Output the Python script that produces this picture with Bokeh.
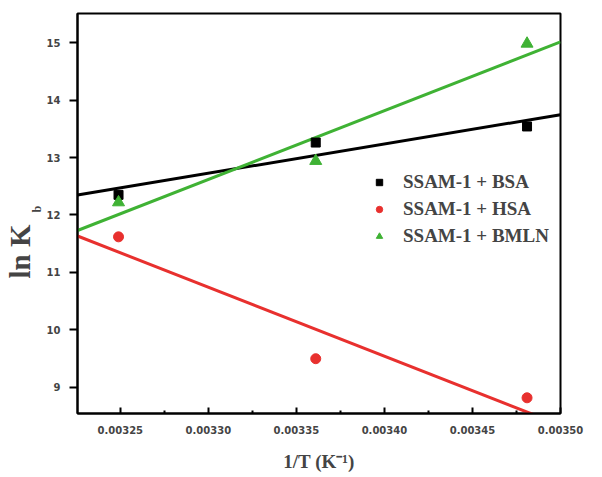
import numpy as np
from bokeh.plotting import figure
from bokeh.models import (Range1d, FixedTicker, PrintfTickFormatter, Title,
                          Legend, LegendItem)
from bokeh.embed import file_html
from bokeh.resources import INLINE

# ---- data ----
inv_T = [0.003249, 0.003361, 0.003481]
lnK_BSA = [12.35, 13.26, 13.54]
lnK_HSA = [11.62, 9.50, 8.82]
lnK_BMLN = [12.22, 12.94, 14.98]

series_names = ["SSAM-1 + BSA", "SSAM-1 + HSA", "SSAM-1 + BMLN"]
x_ticks = [0.00325, 0.00330, 0.00335, 0.00340, 0.00345, 0.00350]
x_minor = [0.003225, 0.003275, 0.003325, 0.003375, 0.003425, 0.003475]
y_ticks = [9, 10, 11, 12, 13, 14, 15]

X0, X1 = 0.0032257, 0.0035
Y0, Y1 = 8.547, 15.505

BLACK = "#000000"
RED = "#e8302e"
GREEN = "#3fb234"
SERIF = "Liberation Serif"

p = figure(width=600, height=477, output_backend="svg", toolbar_location=None,
           x_range=Range1d(X0, X1), y_range=Range1d(Y0, Y1),
           min_border_left=77, min_border_right=40, min_border_top=13,
           min_border_bottom=64)
p.grid.visible = False
p.outline_line_color = "black"
p.outline_line_width = 2
p.background_fill_color = "white"
p.border_fill_color = "white"

# x axis
xa = p.xaxis[0]
xa.ticker = FixedTicker(ticks=x_ticks, minor_ticks=x_minor)
xa.formatter = PrintfTickFormatter(format="%.5f")
xa.axis_line_width = 2
xa.major_tick_in = 6
xa.major_tick_out = 0
xa.minor_tick_in = 3
xa.minor_tick_out = 0
xa.major_tick_line_width = 2
xa.minor_tick_line_width = 2
xa.major_label_standoff = 12
xa.major_label_text_font = "DejaVu Sans"
xa.major_label_text_font_style = "bold"
xa.major_label_text_font_size = "10px"
xa.axis_label = "1/T (K\u207b\u00b9)"
xa.axis_label_text_font = SERIF
xa.axis_label_text_font_style = "bold"
xa.axis_label_text_font_size = "19px"
xa.axis_label_standoff = 14

# y axis
ya = p.yaxis[0]
ya.ticker = FixedTicker(ticks=y_ticks, minor_ticks=[])
ya.formatter = PrintfTickFormatter(format="%d")
ya.axis_line_width = 2
ya.major_tick_in = 0
ya.major_tick_out = 8
ya.major_tick_line_width = 2
ya.minor_tick_line_color = None
ya.major_label_standoff = 9
ya.major_label_text_font = "DejaVu Sans"
ya.major_label_text_font_style = "bold"
ya.major_label_text_font_size = "10px"

# fitted lines across the full x range
xs_line = np.array([X0, X1])
line_specs = [(lnK_HSA, RED), (lnK_BSA, BLACK), (lnK_BMLN, GREEN)]
for ys, col in line_specs:
    m, b = np.polyfit(inv_T, ys, 1)
    p.line(xs_line, m * xs_line + b, line_color=col, line_width=3)

r_bsa = p.scatter(inv_T, lnK_BSA, marker="square", size=9,
                  fill_color=BLACK, line_color=BLACK)
r_hsa = p.scatter(inv_T, lnK_HSA, marker="circle", size=10,
                  fill_color=RED, line_color=RED)
r_bmln = p.scatter(inv_T, lnK_BMLN, marker="triangle", size=12,
                   fill_color=GREEN, line_color=GREEN)

legend = Legend(items=[LegendItem(label=series_names[0], renderers=[r_bsa]),
                       LegendItem(label=series_names[1], renderers=[r_hsa]),
                       LegendItem(label=series_names[2], renderers=[r_bmln])],
                location=(294, 166))
legend.border_line_color = None
legend.background_fill_alpha = 0
legend.padding = 0
legend.margin = 0
legend.spacing = 5
legend.glyph_width = 16
legend.glyph_height = 20
legend.label_height = 20
legend.label_standoff = 16
legend.label_text_font = SERIF
legend.label_text_font_style = "bold"
legend.label_text_font_size = "19px"
p.add_layout(legend, "center")

# y axis title "ln K_b" built from two titles in the left panel
t_sub = Title(text="b", align="left", offset=201, standoff=0,
              text_font=SERIF, text_font_style="bold", text_font_size="12px")
t_main = Title(text="ln K", align="left", offset=135, standoff=0,
               text_font=SERIF, text_font_style="bold", text_font_size="29px")
try:
    t_main.standoff = -16
except Exception:
    t_main.standoff = 0
p.add_layout(t_sub, "left")
p.add_layout(t_main, "left")

open("out.html", "w").write(file_html(p, INLINE))
